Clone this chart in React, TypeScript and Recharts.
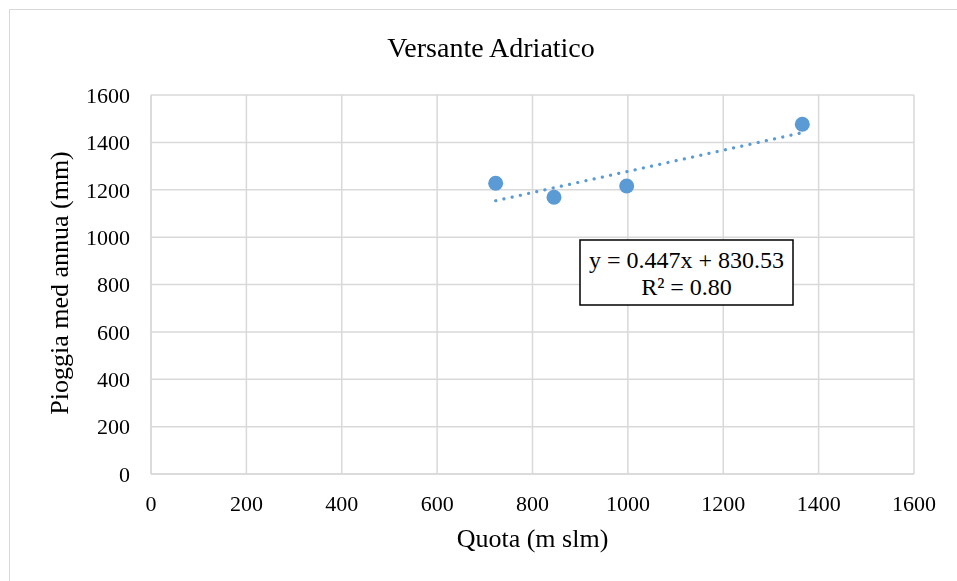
import React from 'react';
import { ScatterChart, Scatter, XAxis, YAxis, CartesianGrid } from 'recharts';

const quota = [722.8, 845.1, 997.5, 1365.8];
const pioggia = [1227.2, 1168.1, 1215.8, 1476.3];
const xTicks = [0, 200, 400, 600, 800, 1000, 1200, 1400, 1600];
const yTicks = [0, 200, 400, 600, 800, 1000, 1200, 1400, 1600];
const slope = 0.447;
const intercept = 830.53;
const r2 = '0.80';

const points = quota.map((x, i) => ({ x, y: pioggia[i] }));
const xMin = Math.min(...quota);
const xMax = Math.max(...quota);
const trend = [
  { x: xMin, y: slope * xMin + intercept },
  { x: xMax, y: slope * xMax + intercept },
];

const FONT = '"Liberation Serif", "Times New Roman", serif';
const BLUE = '#5B9BD5';
const GRID = '#d9d9d9';

const Dot = (props: any) => {
  const { cx, cy } = props;
  if (cx == null || cy == null) return <g />;
  return <circle cx={cx} cy={cy} r={7.5} fill={BLUE} />;
};

export default function App() {
  const W = 941;
  const H = 565;
  return (
    <div style={{ position: 'relative', width: W, height: H, overflow: 'hidden', fontFamily: FONT }}>
      <div
        style={{
          position: 'fixed',
          left: 9,
          top: 9,
          width: 948,
          height: 572,
          borderLeft: '1px solid #d9d9d9',
          borderTop: '1px solid #d9d9d9',
          boxSizing: 'border-box',
          pointerEvents: 'none',
        }}
      />
      <ScatterChart
        width={W}
        height={H}
        margin={{ top: 87, right: 35, left: 0, bottom: 29 }}
        style={{ fontFamily: FONT }}
      >
        <CartesianGrid stroke={GRID} strokeWidth={1.5} />
        <XAxis
          type="number"
          dataKey="x"
          domain={[0, 1600]}
          ticks={xTicks}
          interval={0}
          height={70}
          tickLine={false}
          tickSize={0}
          tickMargin={21}
          axisLine={{ stroke: GRID, strokeWidth: 1.5 }}
          tick={{ fill: '#000', fontSize: 22, fontFamily: FONT }}
        />
        <YAxis
          type="number"
          dataKey="y"
          domain={[0, 1600]}
          ticks={yTicks}
          interval={0}
          width={143}
          tickLine={false}
          tickSize={0}
          tickMargin={21}
          axisLine={{ stroke: GRID, strokeWidth: 1.5 }}
          tick={{ fill: '#000', fontSize: 22, fontFamily: FONT }}
        />
        <Scatter
          data={trend}
          line={{ stroke: BLUE, strokeWidth: 3.2, strokeDasharray: '0.1 8.3', strokeLinecap: 'round' }}
          shape={() => <g />}
          isAnimationActive={false}
        />
        <Scatter data={points} fill={BLUE} shape={Dot} isAnimationActive={false} />
      </ScatterChart>
      <svg
        width={W}
        height={H}
        style={{ position: 'absolute', left: 0, top: 0, pointerEvents: 'none' }}
        fontFamily={FONT}
      >
        <text x={483} y={49} textAnchor="middle" fontSize={28} fill="#000">
          Versante Adriatico
        </text>
        <text x={524.5} y={539} textAnchor="middle" fontSize={26} fill="#000">
          Quota (m slm)
        </text>
        <text
          x={60}
          y={275}
          textAnchor="middle"
          fontSize={26}
          fill="#000"
          transform="rotate(-90 60 275)"
        >
          Pioggia med annua (mm)
        </text>
        <rect x={572} y={232} width={213} height={65} fill="#fff" stroke="#000" strokeWidth={1.5} />
        <text x={678.5} y={260} textAnchor="middle" fontSize={24} fill="#000">
          {`y = ${slope}x + ${intercept}`}
        </text>
        <text x={678.5} y={287} textAnchor="middle" fontSize={24} fill="#000">
          {`R² = ${r2}`}
        </text>
      </svg>
    </div>
  );
}
